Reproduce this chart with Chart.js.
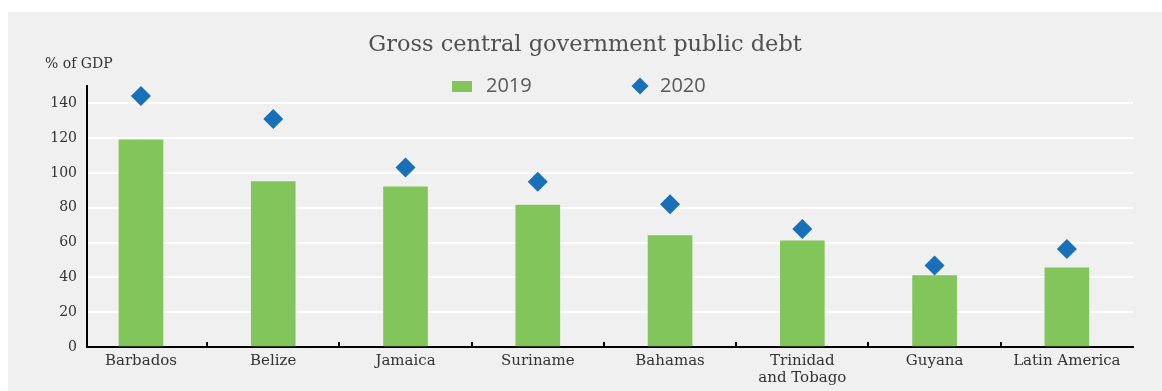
<!DOCTYPE html>
<html>
<head>
<meta charset="utf-8">
<script src="https://cdn.jsdelivr.net/npm/chart.js@4.4.1/dist/chart.umd.min.js"></script>
<style>
  html, body { margin: 0; padding: 0; background: #ffffff; }
  #wrap { position: absolute; left: 8px; top: 12px; width: 1154px; height: 379px; background: #f0f0f0; }
  canvas { display: block; }
</style>
</head>
<body>
<div id="wrap"><canvas id="c" width="1154" height="379"></canvas></div>
<script>
// ---- data ----
const categories = ['Barbados', 'Belize', 'Jamaica', 'Suriname', 'Bahamas', ['Trinidad', 'and Tobago'], 'Guyana', 'Latin America'];
const debt2019 = [119, 95, 92, 81.6, 64, 61, 41, 45.5];
const debt2020 = [144.3, 131, 103.2, 95, 82.1, 67.8, 46.9, 56.3];
const yTicks = [0, 20, 40, 60, 80, 100, 120, 140];
const seriesNames = ['2019', '2020'];
const titleText = 'Gross central government public debt';
const yUnitText = '% of GDP';

const GREEN = '#82c55a';
const BLUE = '#1770b8';
const SERIF = "'DejaVu Serif', serif";
const SANS = "'Open Sans', sans-serif";

const decor = {
  id: 'decor',
  afterDraw(chart) {
    const ctx = chart.ctx;
    const x = chart.scales.x;
    const area = chart.chartArea;
    ctx.save();
    // category boundary tick marks (pointing up into the plot)
    ctx.strokeStyle = '#000';
    ctx.lineWidth = 2;
    for (let i = 0; i < categories.length - 1; i++) {
      const px = Math.round(x.getPixelForValue(i + 0.5));
      ctx.beginPath();
      ctx.moveTo(px, area.bottom - 5);
      ctx.lineTo(px, area.bottom);
      ctx.stroke();
    }
    // unit label
    ctx.fillStyle = '#333';
    ctx.font = '14px ' + SERIF;
    ctx.textBaseline = 'middle';
    ctx.textAlign = 'left';
    ctx.fillText(yUnitText, 37, 52);
    // legend
    ctx.font = '20px ' + SANS;
    ctx.fillStyle = GREEN;
    ctx.fillRect(444, 69, 20, 11);
    ctx.fillStyle = '#595959';
    ctx.fillText(seriesNames[0], 478, 74);
    ctx.fillStyle = BLUE;
    ctx.beginPath();
    ctx.moveTo(632, 65.5); ctx.lineTo(640.5, 74); ctx.lineTo(632, 82.5); ctx.lineTo(623.5, 74); ctx.closePath();
    ctx.fill();
    ctx.fillStyle = '#595959';
    ctx.fillText(seriesNames[1], 652, 74);
    ctx.restore();
  }
};

new Chart(document.getElementById('c'), {
  type: 'bar',
  data: {
    datasets: [
      {
        type: 'line',
        label: seriesNames[1],
        data: debt2020.map((v, i) => ({ x: i, y: v })),
        showLine: false,
        pointStyle: 'rectRot',
        pointRadius: 10,
        pointHoverRadius: 10,
        pointBackgroundColor: BLUE,
        pointBorderWidth: 0,
        borderColor: BLUE,
        backgroundColor: BLUE,
        clip: false,
        order: 0
      },
      {
        type: 'bar',
        label: seriesNames[0],
        data: debt2019.map((v, i) => ({ x: i, y: v })),
        backgroundColor: GREEN,
        borderWidth: 0,
        barThickness: 44,
        order: 1
      }
    ]
  },
  options: {
    responsive: false,
    animation: false,
    devicePixelRatio: 1,
    layout: { padding: { left: 0, right: 0, top: 0, bottom: 0 } },
    plugins: {
      legend: { display: false },
      tooltip: { enabled: false },
      title: {
        display: true,
        text: titleText,
        color: '#505050',
        font: { family: SERIF, size: 22.5, weight: 'normal', lineHeight: 1.2 },
        padding: { top: 20, bottom: 27 }
      }
    },
    scales: {
      x: {
        type: 'linear',
        offset: false,
        bounds: 'data',
        min: -0.408,
        max: 7.5,
        afterBuildTicks: (s) => { s.ticks = categories.map((_, i) => ({ value: i })); },
        afterFit: (s) => { s.height = 44; },
        grid: { display: false, offset: false },
        border: { display: true, color: '#000', width: 2 },
        ticks: {
          autoSkip: false,
          maxRotation: 0,
          padding: -2,
          color: '#333',
          font: { family: SERIF, size: 15, lineHeight: 1.11 },
          callback: (v) => categories[v]
        }
      },
      y: {
        min: 0,
        max: 150,
        afterBuildTicks: (s) => { s.ticks = yTicks.map(v => ({ value: v })); },
        afterFit: (s) => { s.width = 79; },
        grid: { color: '#ffffff', lineWidth: 2, drawTicks: false },
        border: { display: true, color: '#000', width: 2 },
        ticks: {
          padding: 10,
          color: '#333',
          font: { family: SERIF, size: 14 }
        }
      },
      yRightSpace: {
        position: 'right',
        display: true,
        min: 0,
        max: 150,
        afterFit: (s) => { s.width = 29; },
        grid: { display: false, drawOnChartArea: false },
        border: { display: false },
        ticks: { display: false }
      }
    }
  },
  plugins: [decor]
});
</script>
</body>
</html>
